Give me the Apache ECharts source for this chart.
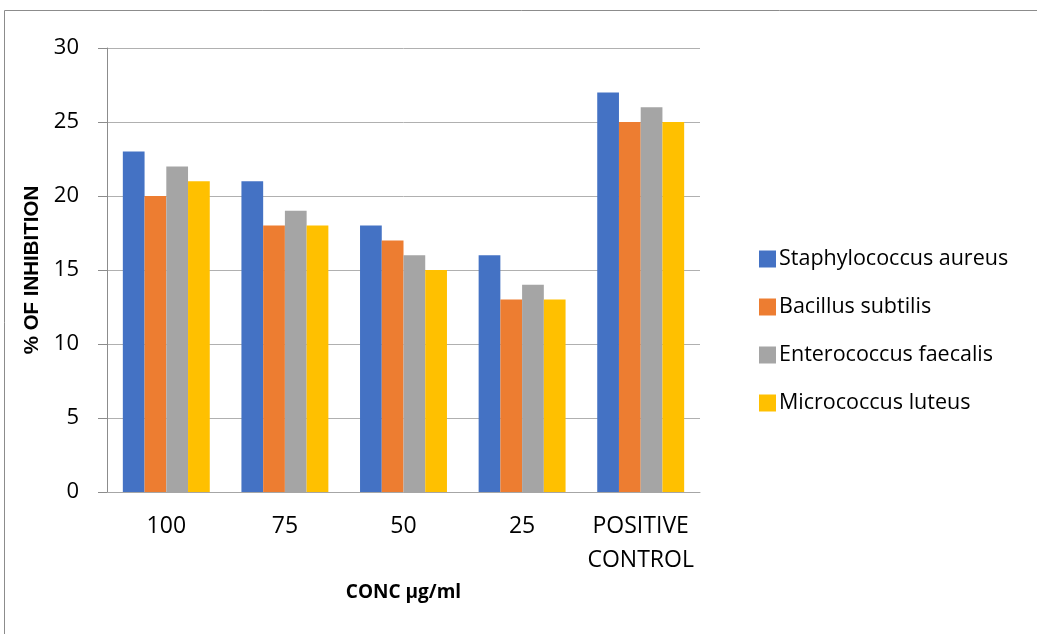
<!DOCTYPE html>
<html><head><meta charset="utf-8">
<script src="https://cdn.jsdelivr.net/npm/echarts@6/dist/echarts.min.js"></script>
<style>html,body{margin:0;padding:0;background:#fff}#c{width:1037px;height:634px}</style>
</head><body><div id="c"></div>
<script>
const categories = ['100', '75', '50', '25', 'POSITIVE\nCONTROL'];
const seriesNames = ['Staphylococcus aureus', 'Bacillus subtilis', 'Enterococcus faecalis', 'Micrococcus luteus'];
const staph = [23, 21, 18, 16, 27];
const bacillus = [20, 18, 17, 13, 25];
const entero = [22, 19, 16, 14, 26];
const micro = [21, 18, 15, 13, 25];
const yTicks = [0, 5, 10, 15, 20, 25, 30];
const colors = ['#4472c4', '#ed7d31', '#a5a5a5', '#ffc000'];
const font = '"Open Sans", sans-serif';
const values = [staph, bacillus, entero, micro];
const chart = echarts.init(document.getElementById('c'));
chart.setOption({
  animation: false,
  textStyle: {fontFamily: font},
  graphic: [{type: 'rect', shape: {x: 4.5, y: 10.5, width: 1040, height: 630}, style: {fill: 'none', stroke: '#8c8c8c', lineWidth: 1}}],
  grid: {left: 107, right: 337, top: 48, bottom: 142},
  legend: {
    orient: 'vertical', left: 754, top: 242, itemGap: 24, itemWidth: 17, itemHeight: 17,
    icon: 'rect', textStyle: {fontSize: 21.5, lineHeight: 24, color: '#000', fontFamily: font, padding: [0, 0, 0, -2]},
    data: seriesNames
  },
  xAxis: {
    type: 'category', data: categories,
    name: 'CONC µg/ml', nameLocation: 'middle', nameGap: 91,
    nameTextStyle: {fontSize: 19, fontWeight: 'bold', color: '#000', fontFamily: font},
    axisLine: {lineStyle: {color: '#a6a6a6'}}, axisTick: {show: false},
    axisLabel: {interval: 0, fontSize: 23, color: '#000', margin: 17, lineHeight: 34, fontFamily: font}
  },
  yAxis: {
    type: 'value', min: 0, max: 30, interval: 5,
    name: '% OF INHIBITION', nameLocation: 'middle', nameGap: 62,
    nameTextStyle: {fontSize: 20.5, fontWeight: 'bold', color: '#000', fontFamily: '"Liberation Sans", Arial, sans-serif'},
    axisLine: {show: true, lineStyle: {color: '#8c8c8c'}},
    axisTick: {show: true, length: 9, lineStyle: {color: '#8c8c8c'}},
    axisLabel: {fontSize: 22, color: '#000', margin: 28, fontFamily: font,
      formatter: v => yTicks.includes(v) ? String(v) : ''},
    splitLine: {lineStyle: {color: '#b0b0b0'}}
  },
  series: seriesNames.map((n, i) => ({
    name: n, type: 'bar', data: values[i], barGap: '0%', barCategoryGap: '26.7%',
    itemStyle: {color: colors[i]}
  }))
});
</script></body></html>
